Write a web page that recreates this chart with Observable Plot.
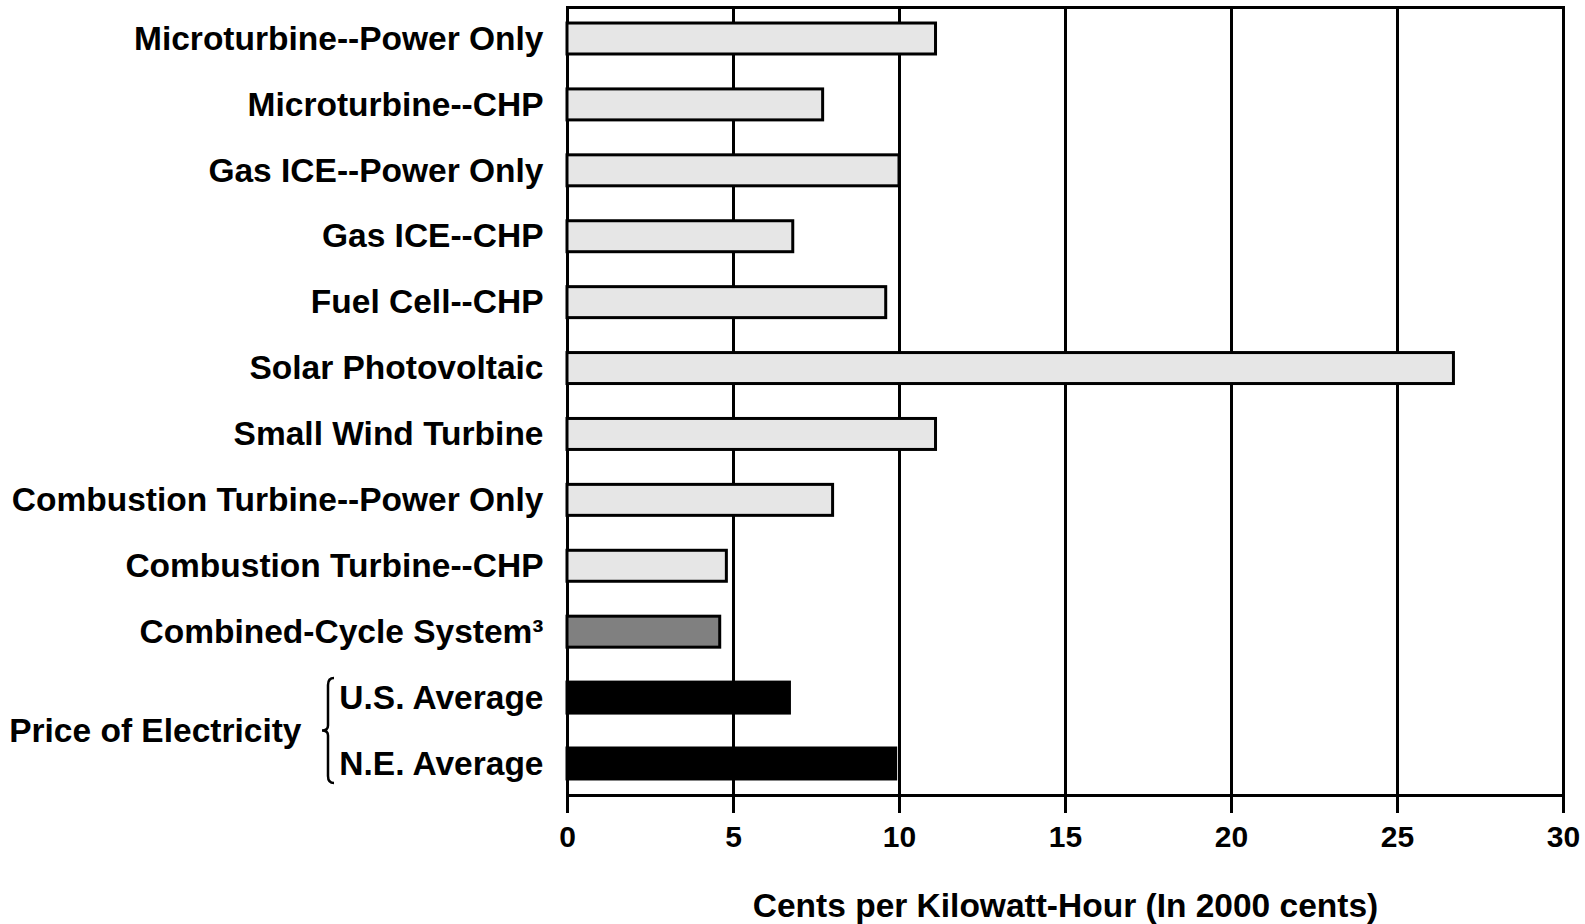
<!DOCTYPE html>
<html>
<head>
<meta charset="utf-8">
<script src="https://cdn.jsdelivr.net/npm/d3@7"></script>
<script src="https://cdn.jsdelivr.net/npm/@observablehq/plot@0.6"></script>
<style>
  html, body { margin: 0; padding: 0; background: #fff; }
  #chart svg { display: block; }
</style>
</head>
<body>
<div id="chart"></div>
<script>
const categories = [
  "Microturbine--Power Only",
  "Microturbine--CHP",
  "Gas ICE--Power Only",
  "Gas ICE--CHP",
  "Fuel Cell--CHP",
  "Solar Photovoltaic",
  "Small Wind Turbine",
  "Combustion Turbine--Power Only",
  "Combustion Turbine--CHP",
  "Combined-Cycle System",
  "U.S. Average",
  "N.E. Average"
];
const values = [11.1, 7.7, 10.0, 6.8, 9.6, 26.7, 11.1, 8.0, 4.8, 4.6, 6.7, 9.9];
const groups = ["dg", "dg", "dg", "dg", "dg", "dg", "dg", "dg", "dg", "cc", "price", "price"];
const groupColors = {dg: "#e6e6e6", cc: "#808080", price: "#000000"};
const xTicks = [0, 5, 10, 15, 20, 25, 30];
const xLabel = "Cents per Kilowatt-Hour (In 2000 cents)";
const groupLabel = "Price of Electricity";
const tickLabels = {"Combined-Cycle System": "Combined-Cycle System\u00B3"};

const data = categories.map((c, i) => ({category: c, value: values[i], group: groups[i]}));

const font = "'Liberation Sans', Arial, sans-serif";

const plot = Plot.plot({
  width: 1585,
  height: 924,
  marginTop: 7,
  marginBottom: 129,
  marginLeft: 567,
  marginRight: 22,
  style: {fontFamily: font, fontWeight: "bold", fontSize: "33px", color: "#000", background: "#fff"},
  x: {domain: [0, 30], axis: null},
  y: {domain: categories, paddingInner: 0.53, paddingOuter: 0.243, round: false, axis: null},
  marks: [
    Plot.gridX(xTicks, {stroke: "#000", strokeOpacity: 1, strokeWidth: 3}),
    Plot.frame({stroke: "#000", strokeWidth: 3}),
    Plot.barX(data, {
      y: "category",
      x: "value",
      fill: d => groupColors[d.group],
      stroke: "#000",
      strokeWidth: 3
    }),
    Plot.axisX({
      ticks: xTicks,
      tickSize: 18,
      strokeWidth: 3,
      tickPadding: 12,
      fontSize: 30,
      label: null
    }),
    Plot.axisY({
      tickSize: 0,
      tickPadding: 24,
      fontSize: 33.5,
      tickFormat: d => tickLabels[d] ?? d,
      label: null
    }),
    Plot.text([xLabel], {
      frameAnchor: "bottom",
      dy: 121,
      fontSize: 33.5,
      fill: "#000"
    }),
    Plot.text([groupLabel], {
      y: () => "U.S. Average",
      frameAnchor: "left",
      dx: -266,
      dy: 33,
      textAnchor: "end",
      fontSize: 33.5,
      fill: "#000"
    })
  ]
});

document.getElementById("chart").appendChild(plot);

// Brace joining the two price categories, positioned from the y scale
const y = plot.scale("y");
const bw = y.bandwidth;
const yTop = y.apply("U.S. Average") - 4;
const yBot = y.apply("N.E. Average") + bw + 4;
const yMid = (yTop + yBot) / 2;
const bx = 328, tip = 322, end = 334;
const bracePath = `M${end},${yTop} Q${bx},${yTop} ${bx},${yTop + 7} L${bx},${yMid - 5} Q${bx},${yMid} ${tip},${yMid} Q${bx},${yMid} ${bx},${yMid + 5} L${bx},${yBot - 7} Q${bx},${yBot} ${end},${yBot}`;
d3.select(plot).append("path")
  .attr("d", bracePath)
  .attr("fill", "none")
  .attr("stroke", "#000")
  .attr("stroke-width", 2.5);
</script>
</body>
</html>
